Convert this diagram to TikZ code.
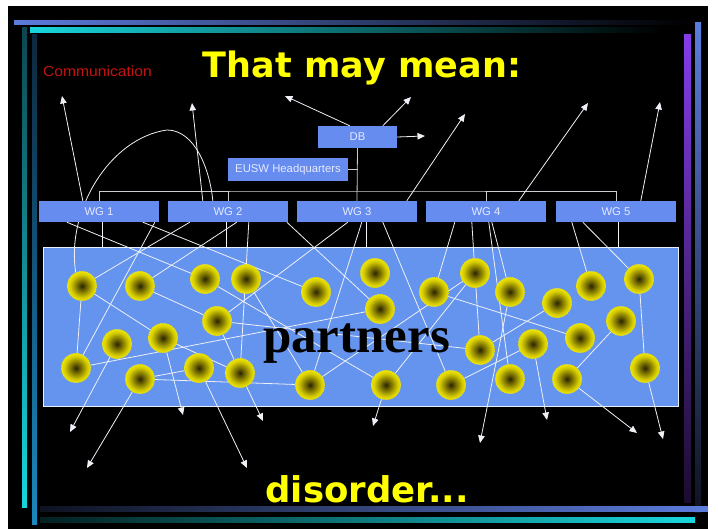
\documentclass[tikz,border=0pt]{standalone}
\usepackage{fontspec}
\setmainfont{Liberation Sans}
\newfontfamily\headfont{DejaVu Sans}
\newfontfamily\bigserif{Liberation Serif}
\usetikzlibrary{arrows.meta}

% palette
\definecolor{panelblue}{RGB}{100,148,238}
\definecolor{boxblue}{RGB}{102,140,240}
\definecolor{boxtext}{RGB}{228,234,255}
\definecolor{wire}{RGB}{238,240,246}
\definecolor{buswire}{RGB}{205,205,212}
\definecolor{titleyellow}{RGB}{255,255,0}
\definecolor{commred}{RGB}{200,18,18}
\definecolor{sunA}{RGB}{40,36,0}
\definecolor{sunB}{RGB}{105,96,0}
\definecolor{sunC}{RGB}{215,205,0}
\definecolor{sunY}{RGB}{255,250,0}
\definecolor{sunrim}{RGB}{232,222,30}
\definecolor{barblue}{RGB}{92,124,220}
\definecolor{barcyan}{RGB}{24,214,220}
\definecolor{barteal}{RGB}{12,70,80}
\definecolor{bardeep}{RGB}{12,40,62}
\definecolor{barsky}{RGB}{26,136,190}
\definecolor{barpurple}{RGB}{132,60,232}

\pgfdeclareradialshading{sunshade}{\pgfpoint{0bp}{0bp}}{%
  color(0bp)=(sunA); color(7bp)=(sunB); color(20bp)=(sunC);
  color(30bp)=(sunY); color(50bp)=(sunY)}

\pgfdeclarelayer{frame}
\pgfdeclarelayer{panel}
\pgfdeclarelayer{wires}
\pgfsetlayers{frame,panel,wires,main}

\tikzset{
  wgbox/.style={rectangle, fill=boxblue, inner sep=0pt, minimum width=120pt,
    minimum height=21pt, text=boxtext, font=\fontsize{11.3}{13}\selectfont},
  sun/.style={circle, inner sep=0pt, minimum size=29pt, shade, shading=sunshade,
    draw=sunrim, line width=0.9pt, dash pattern=on 1.6pt off 0.8pt},
  conn/.style={draw=wire, line width=0.8pt},
  arr/.style={conn, -{Triangle[length=7.5pt,width=6.5pt]}},
  bus/.style={draw=buswire, line width=0.8pt},
}

\begin{document}
\begin{tikzpicture}[x=1pt,y=-1pt]
\useasboundingbox (0,0) rectangle (718,529);

% ---------- background and border bars ----------
\begin{pgfonlayer}{frame}
  \fill[white] (0,0) rectangle (718,529);
  \fill[black] (8,6) rectangle (708,529);
  \shade[left color=barblue, right color=black] (14,21) rectangle (692,25);
  \shade[left color=barcyan, right color=black] (30,28) rectangle (662,33);
  \shade[top color=barteal, bottom color=barcyan] (22,28) rectangle (27,507);
  \shade[top color=bardeep, bottom color=barsky] (32,35) rectangle (37,524);
  \shade[top color=barpurple, bottom color=black!80!barpurple] (684,35) rectangle (691,502);
  \shade[top color=barblue, bottom color=black!85!barblue] (695,23) rectangle (701,512);
  \shade[left color=black!85!barblue, right color=barblue] (40,506) rectangle (708,511);
  \shade[left color=black!85!barcyan, right color=barcyan] (40,517) rectangle (695,522);
\end{pgfonlayer}

% ---------- partner panel ----------
\begin{pgfonlayer}{panel}
  \node[rectangle, fill=panelblue, draw=white!85!panelblue, line width=0.8pt,
        minimum width=635pt, minimum height=159pt, inner sep=0pt]
        (panel) at (360.5,326.5) {};
\end{pgfonlayer}

% ---------- titles ----------
\node[anchor=base, text=titleyellow, font=\headfont\bfseries\fontsize{35}{40}\selectfont]
  (title) at (362,78) {That may mean:};
\node[anchor=base, text=titleyellow, font=\headfont\bfseries\fontsize{35.5}{40}\selectfont]
  (disorder) at (367,502) {disorder...};
\node[anchor=base, text=commred, font=\fontsize{14.5}{16}\selectfont, xscale=1.08]
  (comm) at (97.5,77) {Communication};

% ---------- organisation boxes ----------
\node[wgbox, minimum width=79pt, minimum height=22pt] (db) at (357.5,137) {DB};
\node[wgbox, minimum height=23pt] (eusw) at (288,169.5) {EUSW Headquarters};
\node[wgbox] (wg1) at (99,211.5) {WG 1};
\node[wgbox] (wg2) at (228,211.5) {WG 2};
\node[wgbox] (wg3) at (357,211.5) {WG 3};
\node[wgbox] (wg4) at (486,211.5) {WG 4};
\node[wgbox] (wg5) at (616,211.5) {WG 5};

% ---------- partners ----------
\foreach \n/\x/\y in {1/82/286, 2/140/286, 3/205/279, 4/246/279, 5/316/292,
    6/217/321, 7/163/338, 8/117/344, 9/76/368, 10/140/379, 11/199/368,
    12/240/373, 13/310/385, 14/375/273, 15/380/309, 16/434/292, 17/475/273,
    18/510/292, 19/557/303, 20/591/286, 21/639/279, 22/621/321, 23/580/338,
    24/533/344, 25/480/350, 26/386/385, 27/451/385, 28/510/379, 29/567/379,
    30/645/368}
  \node[sun] (s\n) at (\x,\y) {};

\node[anchor=base, text=black, font=\bigserif\bfseries\fontsize{51}{56}\selectfont]
  (partners) at (356.5,353) {partners};

% free ends of the outgoing arrows
\coordinate (u1) at (62,96);
\coordinate (u2) at (192,103);
\coordinate (u3) at (285,96);
\coordinate (u4) at (411,97);
\coordinate (u5) at (425,136);
\coordinate (u6) at (465,114);
\coordinate (u7) at (588,103);
\coordinate (u8) at (660,102);
\coordinate (d1) at (70,432);
\coordinate (d2) at (87,468);
\coordinate (d3) at (183,415);
\coordinate (d4) at (247,468);
\coordinate (d5) at (263,421);
\coordinate (d6) at (373,426);
\coordinate (d7) at (480,443);
\coordinate (d8) at (547,420);
\coordinate (d9) at (637,433);
\coordinate (d10) at (663,439);
\coordinate (looptop) at (167,130);

% ---------- connectors ----------
\begin{pgfonlayer}{wires}
  % hierarchy
  \draw[bus] (wg1.north) |- (wg3.north |- 0,191) -| (wg5.north);
  \draw[bus] (wg2.north) -- (wg2.north |- 0,191);
  \draw[bus] (wg4.north) -- (wg4.north |- 0,191);
  \draw[bus] (db.south) -- (wg3.north);
  \draw[bus] (eusw.east) -- (eusw.east -| db.south);

  % short drops from the groups onto the panel
  \draw[conn] ([xshift=3pt]wg1.south) -- ++(0,25);
  \draw[conn] ([xshift=-2pt]wg2.south) -- ++(0,25);
  \draw[conn] ([xshift=9pt]wg3.south) -- ++(0,25);
  \draw[conn] ([xshift=2pt]wg5.south) -- ++(0,25);

  % upward arrows
  \draw[arr] ([xshift=44pt]wg1.north west) -- (u1);
  \draw[arr] ([xshift=35pt]wg2.north west) -- (u2);
  \draw[arr] ([xshift=32pt]db.north west) -- (u3);
  \draw[arr] ([xshift=65pt]db.north west) -- (u4);
  \draw[arr] (db.east) -- (u5);
  \draw[arr] ([xshift=110pt]wg3.north west) -- (u6);
  \draw[arr] ([xshift=93pt]wg4.north west) -- (u7);
  \draw[arr] ([xshift=85pt]wg5.north west) -- (u8);

  % the loop
  \draw[conn] (s1.115) .. controls (66,210) and (110,138) .. (looptop)
              .. controls (195,130) and (210,170) .. ([xshift=45pt]wg2.north west);

  % groups to partners
  \draw[conn] ([xshift=28pt]wg1.south west) -- (s3);
  \draw[conn] ([xshift=104pt]wg1.south west) -- (s5);
  \draw[conn] ([xshift=116pt]wg1.south west) -- (s9);
  \draw[conn] ([xshift=22pt]wg2.south west) -- (s1);
  \draw[conn] ([xshift=69pt]wg2.south west) -- (s2);
  \draw[conn] ([xshift=81pt]wg2.south west) -- (s12);
  \draw[conn] ([xshift=119pt]wg2.south west) -- (s15);
  \draw[conn] ([xshift=51pt]wg3.south west) -- (s6);
  \draw[conn] ([xshift=65pt]wg3.south west) -- (s13);
  \draw[conn] ([xshift=86pt]wg3.south west) -- (s27);
  \draw[conn] ([xshift=29pt]wg4.south west) -- (s16);
  \draw[conn] ([xshift=46pt]wg4.south west) -- (s17);
  \draw[conn] ([xshift=63pt]wg4.south west) -- (s28);
  \draw[conn] ([xshift=66pt]wg4.south west) -- (s18);
  \draw[conn] ([xshift=16pt]wg5.south west) -- (s20);
  \draw[conn] ([xshift=27pt]wg5.south west) -- (s21);

  % partner to partner
  \foreach \a/\b in {1/9, 1/7, 7/12, 2/6, 3/26, 4/13, 6/12, 6/25, 9/15,
      10/11, 10/13, 13/17, 26/17, 17/25, 25/19, 16/23, 27/24, 22/29, 21/30}
    \draw[conn] (s\a) -- (s\b);

  % downward arrows
  \foreach \a/\b in {8/d1, 10/d2, 7/d3, 11/d4, 12/d5, 26/d6, 18/d7, 24/d8,
      29/d9, 30/d10}
    \draw[arr] (s\a) -- (\b);
\end{pgfonlayer}
\end{tikzpicture}
\end{document}
